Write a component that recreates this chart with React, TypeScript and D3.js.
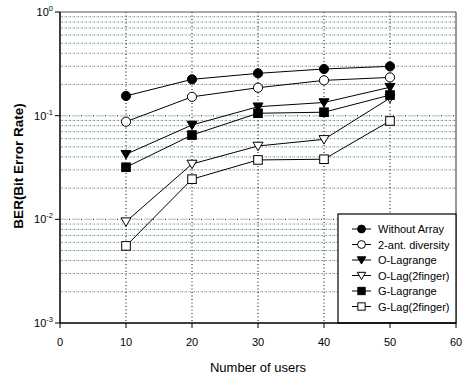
import React from "react";
import * as d3 from "d3";

const users = [10, 20, 30, 40, 50];
const withoutArray = [0.155, 0.224, 0.256, 0.282, 0.299];
const twoAnt = [0.0875, 0.152, 0.186, 0.219, 0.234];
const oLagrange = [0.0424, 0.0813, 0.122, 0.134, 0.188];
const oLag2 = [0.0095, 0.0342, 0.051, 0.0591, 0.148];
const gLagrange = [0.0318, 0.065, 0.1055, 0.108, 0.158];
const gLag2 = [0.00554, 0.0244, 0.0374, 0.038, 0.0889];
const seriesNames = ["Without Array", "2-ant. diversity", "O-Lagrange", "O-Lag(2finger)", "G-Lagrange", "G-Lag(2finger)"];
const xTicks = [0, 10, 20, 30, 40, 50, 60];
const yExps = [0, -1, -2, -3];

const W = 462, H = 379;
const L = 60, R = 456, T = 12, B = 323;

type Mk = "circle" | "tri" | "square";
const seriesData = [withoutArray, twoAnt, oLagrange, oLag2, gLagrange, gLag2];
const markers: { shape: Mk; fill: string }[] = [
  { shape: "circle", fill: "#000" },
  { shape: "circle", fill: "#fff" },
  { shape: "tri", fill: "#000" },
  { shape: "tri", fill: "#fff" },
  { shape: "square", fill: "#000" },
  { shape: "square", fill: "#fff" },
];

function Marker({ x, y, shape, fill, s = 1 }: { x: number; y: number; shape: Mk; fill: string; s?: number }) {
  if (shape === "circle") return <circle cx={x} cy={y} r={4.6 * s} fill={fill} stroke="#000" strokeWidth={1} />;
  if (shape === "square") {
    const h = 4.3 * s;
    return <rect x={x - h} y={y - h} width={2 * h} height={2 * h} fill={fill} stroke="#000" strokeWidth={1} />;
  }
  const h = 5 * s;
  return <path d={`M${x - h},${y - h * 0.75}L${x + h},${y - h * 0.75}L${x},${y + h * 0.95}Z`} fill={fill} stroke="#000" strokeWidth={1} />;
}

export default function App() {
  const x = d3.scaleLinear().domain([0, 60]).range([L, R]);
  const y = d3.scaleLog().domain([1e-3, 1]).range([B, T]);
  const line = d3.line<[number, number]>().x((d) => x(d[0])).y((d) => y(d[1]));

  const minors: number[] = [];
  [-3, -2, -1].forEach((e) => {
    for (let k = 2; k <= 9; k++) minors.push(k * Math.pow(10, e));
  });

  const legX = 338, legY = 214, legW = R - legX, legH = B - legY;
  const font = "Liberation Sans, Arial, sans-serif";

  return (
    <svg width={W} height={H} style={{ position: "absolute", left: 0, top: 0 }} fontFamily={font}>
      <rect x={0} y={0} width={W} height={H} fill="#fff" />
      {/* minor grid */}
      {minors.map((v, i) => (
        <g key={"m" + i}>
          <line x1={L} x2={R} y1={y(v)} y2={y(v)} stroke="#c8c8c8" strokeWidth={1} strokeDasharray="2,2" />
          <line x1={L + 2} x2={R} y1={y(v)} y2={y(v)} stroke="#3f9090" strokeWidth={1} strokeDasharray="1,3" />
        </g>
      ))}
      {/* major grid */}
      {[-1, -2].map((e) => (
        <g key={"M" + e}>
          <line x1={L} x2={R} y1={y(Math.pow(10, e))} y2={y(Math.pow(10, e))} stroke="#d0d0d0" strokeWidth={1.5} strokeDasharray="8,4" />
          <line x1={L} x2={R} y1={y(Math.pow(10, e))} y2={y(Math.pow(10, e))} stroke="#000" strokeWidth={1} strokeDasharray="1,11" strokeDashoffset={-9} />
        </g>
      ))}
      {/* vertical grid */}
      {users.map((u) => (
        <line key={"v" + u} x1={x(u)} x2={x(u)} y1={T} y2={B} stroke="#000" strokeWidth={1} strokeDasharray="1,2.5" />
      ))}
      {/* frame */}
      <line x1={L} x2={R} y1={T} y2={T} stroke="#555" strokeWidth={1.2} />
      <line x1={R} x2={R} y1={T} y2={B} stroke="#555" strokeWidth={1.2} />
      {/* series */}
      {seriesData.map((vals, i) => (
        <path key={"l" + i} d={line(users.map((u, j) => [u, vals[j]] as [number, number])) || ""} fill="none" stroke="#000" strokeWidth={1} />
      ))}
      {seriesData.map((vals, i) =>
        users.map((u, j) => <Marker key={"p" + i + "-" + j} x={x(u)} y={y(vals[j])} shape={markers[i].shape} fill={markers[i].fill} />)
      )}
      {/* legend */}
      <rect x={legX} y={legY} width={legW} height={legH} fill="#fff" stroke="#000" strokeWidth={1.2} />
      {seriesNames.map((n, i) => {
        const yy = legY + 15 + i * 15.5;
        return (
          <g key={"lg" + i}>
            <line x1={legX + 14} x2={legX + 33} y1={yy} y2={yy} stroke="#000" strokeWidth={1} />
            <Marker x={legX + 23.5} y={yy} shape={markers[i].shape} fill={markers[i].fill} s={0.85} />
            <text x={legX + 40} y={yy + 4} fontSize={11} fill="#000">{n}</text>
          </g>
        );
      })}
      {/* axes */}
      <line x1={L} x2={L} y1={T} y2={B} stroke="#000" strokeWidth={1.5} />
      <line x1={L} x2={R} y1={B} y2={B} stroke="#000" strokeWidth={1.5} />
      {xTicks.map((t) => (
        <g key={"xt" + t}>
          <line x1={x(t)} x2={x(t)} y1={B} y2={B + 5} stroke="#000" strokeWidth={1} />
          <text x={x(t)} y={B + 23} fontSize={11} textAnchor="middle" fill="#000">{t}</text>
        </g>
      ))}
      {yExps.map((e) => (
        <g key={"yt" + e}>
          <line x1={L - 5} x2={L} y1={y(Math.pow(10, e))} y2={y(Math.pow(10, e))} stroke="#000" strokeWidth={1} />
          <text x={L - 7} y={y(Math.pow(10, e)) + 4} fontSize={11} textAnchor="end" fill="#000">
            10<tspan fontSize={7.5} dy={-5}>{e}</tspan>
          </text>
        </g>
      ))}
      <text x={258} y={372} fontSize={13} textAnchor="middle" fill="#000">Number of users</text>
      <text transform={`translate(23,166) rotate(-90)`} fontSize={13.5} fontWeight="bold" textAnchor="middle" fill="#000">BER(Bit Error Rate)</text>
    </svg>
  );
}
